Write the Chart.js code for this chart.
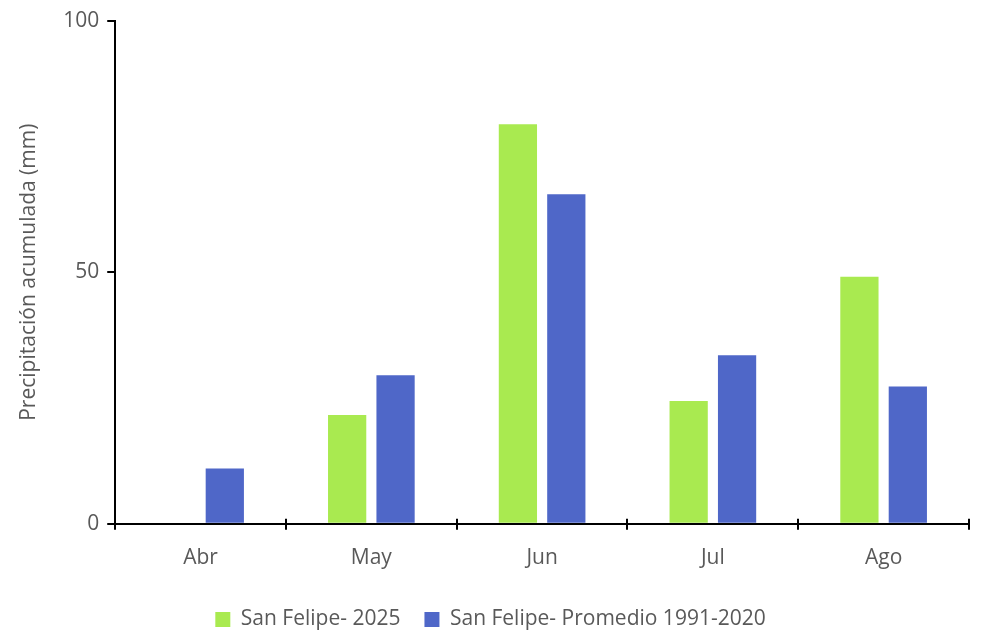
<!DOCTYPE html>
<html>
<head>
<meta charset="utf-8">
<script src="https://cdn.jsdelivr.net/npm/chart.js@4/dist/chart.umd.min.js"></script>
<style>
  html, body { margin: 0; padding: 0; background: #fff; }
  #wrap { width: 985px; height: 636px; }
</style>
</head>
<body>
<div id="wrap"><canvas id="rainChart"></canvas></div>
<script>
const months = ['Abr', 'May', 'Jun', 'Jul', 'Ago'];
const rain2025 = [0, 21.6, 79.4, 24.4, 49.1];
const rainNormal = [11.0, 29.5, 65.5, 33.5, 27.3];
const yTicks = [0, 50, 100];

const textColor = '#595959';
const fontFamily = "'Open Sans', 'Liberation Sans', sans-serif";

// x axis tick marks cross the axis line (above and below)
const crossTicks = {
  id: 'crossTicks',
  afterDraw(chart) {
    const ctx = chart.ctx;
    const x = chart.scales.x;
    const y0 = chart.scales.y.getPixelForValue(0);
    const step = x.getPixelForValue(1) - x.getPixelForValue(0);
    ctx.save();
    ctx.strokeStyle = '#000';
    ctx.lineWidth = 2;
    for (let i = 0; i <= months.length; i++) {
      const px = x.getPixelForValue(0) - step / 2 + i * step;
      ctx.beginPath();
      ctx.moveTo(Math.round(px), y0 - 5);
      ctx.lineTo(Math.round(px), y0 + 6);
      ctx.stroke();
    }
    ctx.restore();
  }
};

// make the legend box a bit shorter so the plot gets more height
const shortLegend = {
  id: 'shortLegend',
  beforeInit(chart) {
    const origFit = chart.legend.fit;
    chart.legend.fit = function () {
      origFit.bind(chart.legend)();
      this.height -= 4;
    };
  }
};

const rainChart = new Chart(document.getElementById('rainChart'), {
  type: 'bar',
  data: {
    labels: months,
    datasets: [
      {
        label: 'San Felipe- 2025',
        data: rain2025,
        backgroundColor: '#a9ea50',
        categoryPercentage: 0.567,
        barPercentage: 0.79,
      },
      {
        label: 'San Felipe- Promedio 1991-2020',
        data: rainNormal,
        backgroundColor: '#4f67c8',
        categoryPercentage: 0.567,
        barPercentage: 0.79,
      }
    ]
  },
  options: {
    responsive: true,
    maintainAspectRatio: false,
    animation: false,
    layout: {
      padding: { left: 12, right: 16, top: 10, bottom: 0 }
    },
    scales: {
      x: {
        grid: { display: false },
        border: { color: '#000', width: 2 },
        ticks: {
          color: textColor,
          font: { family: fontFamily, size: 21 },
          padding: 14
        }
      },
      y: {
        min: 0,
        max: 100,
        afterBuildTicks: (axis) => { axis.ticks = yTicks.map(v => ({ value: v })); },
        grid: {
          drawOnChartArea: false,
          color: '#000',
          lineWidth: 2,
          tickLength: 8
        },
        border: { color: '#000', width: 2 },
        ticks: {
          color: textColor,
          font: { family: fontFamily, size: 21 },
          padding: 8
        },
        title: {
          display: true,
          text: 'Precipitación acumulada (mm)',
          color: textColor,
          font: { family: fontFamily, size: 21 },
          padding: { bottom: 14 }
        }
      }
    },
    plugins: {
      legend: {
        position: 'bottom',
        labels: {
          color: textColor,
          font: { family: fontFamily, size: 21 },
          boxWidth: 15,
          boxHeight: 15,
          padding: 24
        }
      },
      tooltip: { enabled: false }
    }
  },
  plugins: [crossTicks, shortLegend]
});
</script>
</body>
</html>
